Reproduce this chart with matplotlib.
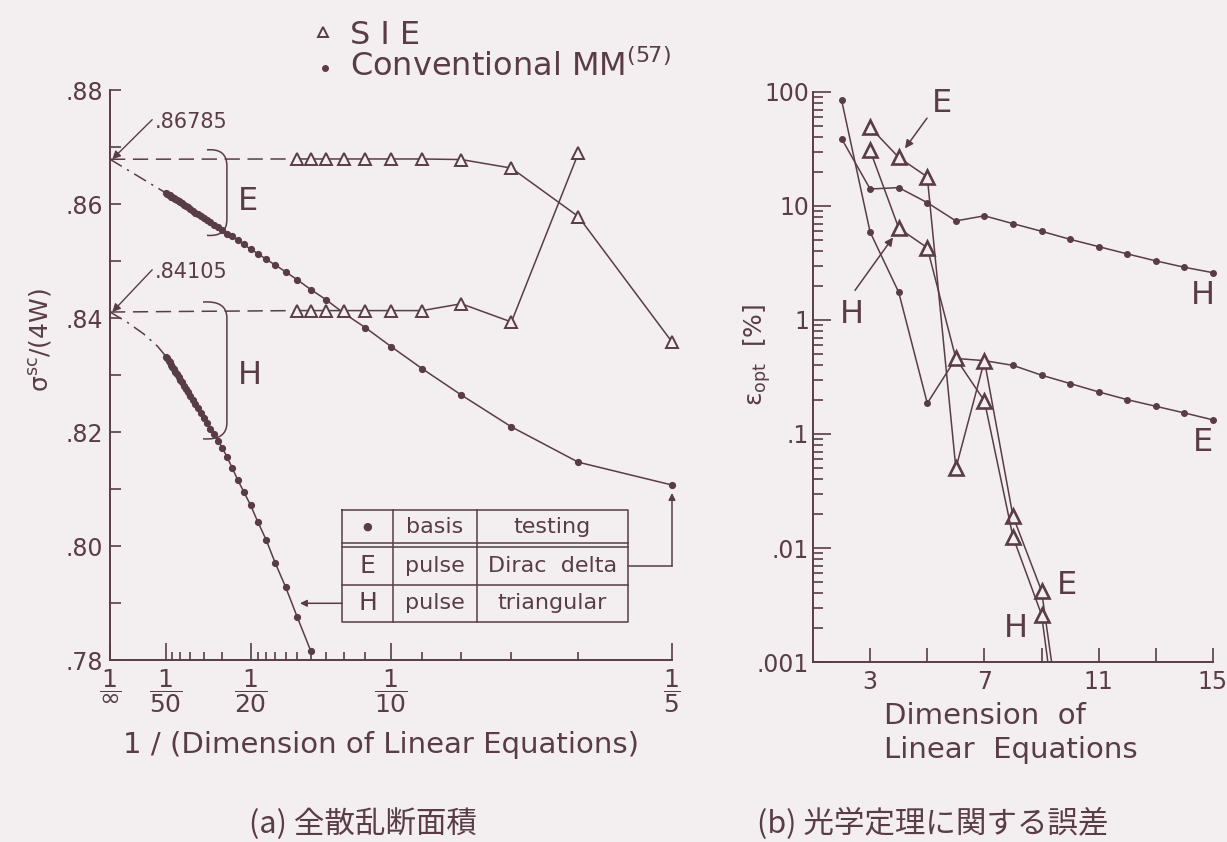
import matplotlib
matplotlib.use('Agg')
import matplotlib.pyplot as plt
from matplotlib.path import Path
from matplotlib.patches import PathPatch
from matplotlib.lines import Line2D
from matplotlib.ticker import LogLocator, NullFormatter

INK = '#5a3c47'
BG = '#f3eff0'
plt.rcParams['font.family'] = ['DejaVu Sans']
plt.rcParams['mathtext.fontset'] = 'dejavusans'
plt.rcParams['mathtext.default'] = 'regular'
for k in ('text.color', 'axes.edgecolor', 'xtick.color', 'ytick.color', 'axes.labelcolor'):
    plt.rcParams[k] = INK

# ---------------- (a) total scattering cross section ----------------
N_MM_E = list(range(5, 51))
sigma_MM_E = [0.8107, 0.8147, 0.8209, 0.8265, 0.8311, 0.8350, 0.8383, 0.8408, 0.8432, 0.8450,
              0.8467, 0.8481, 0.8493, 0.8503, 0.8513, 0.8521, 0.8529, 0.8536, 0.8543, 0.8548,
              0.8554, 0.8559, 0.8564, 0.8568, 0.8572, 0.8576, 0.8579, 0.8582, 0.8585, 0.8588,
              0.8591, 0.8594, 0.8596, 0.8598, 0.8601, 0.8603, 0.8605, 0.8607, 0.8608, 0.8610,
              0.8612, 0.8613, 0.8615, 0.8616, 0.8618, 0.8619]
N_MM_H = list(range(14, 51))
sigma_MM_H = [0.7816, 0.7875, 0.7928, 0.7970, 0.8011, 0.8042, 0.8072, 0.8095, 0.8116, 0.8137,
              0.8156, 0.8172, 0.8184, 0.8196, 0.8206, 0.8216, 0.8225, 0.8234, 0.8242, 0.8250,
              0.8257, 0.8263, 0.8270, 0.8276, 0.8281, 0.8287, 0.8292, 0.8297, 0.8302, 0.8306,
              0.8310, 0.8314, 0.8318, 0.8322, 0.8325, 0.8329, 0.8332]
N_SIE_E = [15, 14, 13, 12, 11, 10, 9, 8, 7, 6, 5]
sigma_SIE_E = [0.8679, 0.8679, 0.8679, 0.8679, 0.8679, 0.8679, 0.8679, 0.8678, 0.8663, 0.8578, 0.8358]
N_SIE_H = [15, 14, 13, 12, 11, 10, 9, 8, 7, 6]
sigma_SIE_H = [0.8413, 0.8413, 0.8413, 0.8413, 0.8413, 0.8413, 0.8413, 0.8425, 0.8393, 0.8689]
E_LIMIT = 0.86785
H_LIMIT = 0.84105
extrap_H_inv = [0.0, 0.006, 0.012, 0.017, 0.02]
extrap_H_sigma = [0.84105, 0.8393, 0.8372, 0.8350, 0.8332]
xtick_N = ['\\infty', '50', '20', '10', '5']
xtick_inv = [0.0, 1 / 50, 1 / 20, 1 / 10, 1 / 5]
minor_N = [45, 40, 35, 30, 25, 19, 18, 17, 16, 15, 14, 13, 12, 11, 9, 8, 7, 6]
ytick_vals = [0.78, 0.80, 0.82, 0.84, 0.86, 0.88]
ytick_labels = ['.78', '.80', '.82', '.84', '.86', '.88']

# ---------------- (b) optical theorem error ----------------
dim_MM = list(range(2, 16))
eps_MM_E = [85, 5.9, 1.75, 0.186, 0.46, 0.44, 0.40, 0.328, 0.277, 0.234, 0.20, 0.175, 0.153, 0.133]
eps_MM_H = [39, 14.1, 14.5, 10.7, 7.4, 8.2, 7.0, 6.0, 5.1, 4.4, 3.8, 3.3, 2.9, 2.6]
dim_SIE = list(range(3, 11))
eps_SIE_E = [49, 26.7, 18, 0.05, 0.44, 0.019, 0.0042, 0.00007]
eps_SIE_H = [30.7, 6.4, 4.3, 0.46, 0.195, 0.0125, 0.0026, 0.000034]
ytickR_vals = [0.001, 0.01, 0.1, 1, 10, 100]
ytickR_labels = ['.001', '.01', '.1', '1', '10', '100']

W, H = 1227, 842
fig = plt.figure(figsize=(W / 100, H / 100), dpi=100, facecolor=BG)
axL = fig.add_axes([110 / W, 1 - 660 / H, 562 / W, 570 / H])
axR = fig.add_axes([813 / W, 1 - 662 / H, 400 / W, 570 / H])
for ax in (axL, axR):
    ax.set_facecolor('none')
    for s in ('top', 'right'):
        ax.spines[s].set_visible(False)
    for s in ('left', 'bottom'):
        ax.spines[s].set_linewidth(1.4)

LW = 1.1
DASH = (0, (10, 5))
DASHDOT = (0, (9, 4, 1.5, 4))
tri = dict(marker='^', ms=8, mfc=BG, mec=INK, mew=1.4)

# ---- left panel
axL.plot([1 / n for n in N_MM_E], sigma_MM_E, '-', color=INK, lw=LW, marker='o', ms=4.2,
         mfc=INK, mec=INK, clip_on=False)
axL.plot([1 / n for n in N_MM_H], sigma_MM_H, '-', color=INK, lw=LW, marker='o', ms=4.2,
         mfc=INK, mec=INK, clip_on=False)
axL.plot([0, 1 / N_MM_E[-1]], [E_LIMIT, sigma_MM_E[-1]], color=INK, lw=LW, ls=DASHDOT)
axL.plot(extrap_H_inv, extrap_H_sigma, color=INK, lw=LW, ls=DASHDOT)
axL.plot([0, 1 / N_SIE_E[0]], [E_LIMIT, sigma_SIE_E[0]], color=INK, lw=LW, ls=DASH)
axL.plot([0, 1 / N_SIE_H[0]], [H_LIMIT, sigma_SIE_H[0]], color=INK, lw=LW, ls=DASH)
axL.plot([1 / n for n in N_SIE_E], sigma_SIE_E, '-', color=INK, lw=LW, clip_on=False, **tri)
axL.plot([1 / n for n in N_SIE_H], sigma_SIE_H, '-', color=INK, lw=LW, clip_on=False, **tri)

axL.set_xlim(0, 0.2)
axL.set_ylim(0.78, 0.88)
axL.set_xticks(xtick_inv)
axL.set_xticklabels([r'$\dfrac{1}{%s}$' % n for n in xtick_N], fontsize=18)
axL.set_xticks([1 / n for n in minor_N], minor=True)
axL.tick_params(axis='x', which='major', direction='in', length=12, width=1.2, pad=5)
axL.tick_params(axis='x', which='minor', direction='in', length=6, width=1.2)
axL.set_yticks(ytick_vals)
axL.set_yticklabels(ytick_labels, fontsize=17)
axL.set_yticks([0.79, 0.81, 0.83, 0.85, 0.87], minor=True)
axL.tick_params(axis='y', which='both', direction='in', length=8, width=1.2, pad=5)

# annotations of limits
for val, ytxt in ((E_LIMIT, 0.8744), (H_LIMIT, 0.8481)):
    axL.annotate('.%s' % str(val)[2:], xy=(0.0008, val), xytext=(0.016, ytxt),
                 fontsize=15, ha='left', va='center', color=INK,
                 arrowprops=dict(arrowstyle='-|>', color=INK, lw=1.0, shrinkA=0, shrinkB=0,
                                 relpos=(0, 0.75), mutation_scale=12))

# brackets
def bracket(x0, x1, ytop, ybot, dy):
    verts = [(x0, ytop), (x1, ytop + 0.0003), (x1, ytop - dy), (x1, ybot + dy),
             (x1, ybot - 0.0003), (x0, ybot)]
    codes = [Path.MOVETO, Path.CURVE3, Path.CURVE3, Path.LINETO, Path.CURVE3, Path.CURVE3]
    axL.add_patch(PathPatch(Path(verts, codes), fill=False, ec=INK, lw=1.1))

bracket(0.0345, 0.0416, 0.8695, 0.8545, 0.0028)
bracket(0.0331, 0.0416, 0.8428, 0.8188, 0.0028)
axL.text(0.0491, 0.8604, 'E', fontsize=23, ha='center', va='center')
axL.text(0.0498, 0.8300, 'H', fontsize=23, ha='center', va='center')

# table
tx0, tx1, tx2, tx3 = 0.0826, 0.1007, 0.1306, 0.1843
ty0, ty1a, ty1b, ty2, ty3 = 0.8063, 0.8005, 0.7998, 0.7932, 0.7867
tk = dict(color=INK, lw=1.1, clip_on=False)
axL.plot([tx0, tx3, tx3, tx0, tx0], [ty0, ty0, ty3, ty3, ty0], **tk)
for yy in (ty1a, ty1b, ty2):
    axL.plot([tx0, tx3], [yy, yy], **tk)
for xx in (tx1, tx2):
    axL.plot([xx, xx], [ty0, ty3], **tk)
rows = [('\u25cf', 'basis', 'testing'), ('E', 'pulse', 'Dirac  delta'), ('H', 'pulse', 'triangular')]
rowy = [(ty0 + ty1a) / 2, (ty1b + ty2) / 2, (ty2 + ty3) / 2]
colx = [(tx0 + tx1) / 2, (tx1 + tx2) / 2, (tx2 + tx3) / 2]
for r, yy in zip(rows, rowy):
    for c, xx in zip(r, colx):
        fs = 18 if c in ('E', 'H') else (8 if c == '\u25cf' else 16)
        axL.text(xx, yy, c, fontsize=fs, ha='center', va='center')
axL.annotate('', xy=(0.0676, rowy[2]), xytext=(tx0, rowy[2]),
             arrowprops=dict(arrowstyle='-|>', color=INK, lw=1.1, shrinkA=0, shrinkB=0,
                             mutation_scale=10))
axL.plot([tx3, 0.2], [rowy[1], rowy[1]], **tk)
axL.annotate('', xy=(0.2, 0.8093), xytext=(0.2, rowy[1]),
             arrowprops=dict(arrowstyle='-|>', color=INK, lw=1.1, shrinkA=0, shrinkB=0,
                             mutation_scale=10), annotation_clip=False)

# ---- right panel
axR.set_yscale('log')
axR.plot(dim_MM, eps_MM_E, '-', color=INK, lw=LW, marker='o', ms=4, mfc=INK, mec=INK, clip_on=False)
axR.plot(dim_MM, eps_MM_H, '-', color=INK, lw=LW, marker='o', ms=4, mfc=INK, mec=INK, clip_on=False)
triR = dict(marker='^', ms=10, mfc=BG, mec=INK, mew=1.9)
axR.plot(dim_SIE, eps_SIE_E, '-', color=INK, lw=LW, markevery=list(range(len(dim_SIE) - 1)), **triR)
axR.plot(dim_SIE, eps_SIE_H, '-', color=INK, lw=LW, markevery=list(range(len(dim_SIE) - 1)), **triR)
axR.set_xlim(1, 15)
axR.set_ylim(0.001, 100)
axR.set_yticks(ytickR_vals)
axR.set_yticklabels(ytickR_labels, fontsize=17)
axR.yaxis.set_minor_locator(LogLocator(base=10, subs=range(2, 10)))
axR.yaxis.set_minor_formatter(NullFormatter())
axR.tick_params(axis='y', which='major', direction='in', length=13, width=1.2, pad=3)
axR.tick_params(axis='y', which='minor', direction='in', length=7, width=1.2)
axR.set_xticks([3, 7, 11, 15])
axR.set_xticklabels(['3', '7', '11', '15'], fontsize=17)
axR.set_xticks([5, 9, 13], minor=True)
axR.tick_params(axis='x', which='both', direction='in', length=10, width=1.2, pad=6)

axR.annotate('', xy=(4.22, 32), xytext=(4.99, 59),
             arrowprops=dict(arrowstyle='-|>', color=INK, lw=1.1, shrinkA=0, shrinkB=0, mutation_scale=12))
axR.annotate('', xy=(3.8, 5.3), xytext=(2.47, 1.82),
             arrowprops=dict(arrowstyle='-|>', color=INK, lw=1.1, shrinkA=0, shrinkB=0, mutation_scale=12))
for x, y, s in ((5.52, 80, 'E'), (2.37, 1.11, 'H'), (14.65, 1.64, 'H'), (14.65, 0.0836, 'E'),
                (9.89, 0.0047, 'E'), (8.1, 0.00197, 'H')):
    axR.text(x, y, s, fontsize=23, ha='center', va='center')

# axis labels
fig.text(40 / W, 1 - 340 / H, r'$\sigma^{sc}$/(4W)', rotation=90, fontsize=18, ha='center', va='center')
fig.text(757 / W, 1 - 355 / H, r'$\varepsilon_{opt}$  [%]', rotation=90, fontsize=18, ha='center', va='center')
fig.text(381 / W, 1 - 745 / H, '1 / (Dimension of Linear Equations)', fontsize=21, ha='center', va='center')
fig.text(884 / W, 1 - 733 / H, 'Dimension  of\nLinear  Equations', fontsize=21, ha='left', va='center',
         linespacing=1.3)

# legend at top
fig.add_artist(Line2D([323 / W], [1 - 32 / H], marker='^', ms=7, mfc=BG, mec=INK, mew=1.4,
                      transform=fig.transFigure))
fig.add_artist(Line2D([325 / W], [1 - 68 / H], marker='o', ms=4, mfc=INK, mec=INK,
                      transform=fig.transFigure))
fig.text(350 / W, 1 - 35 / H, 'S I E', fontsize=23, ha='left', va='center')
fig.text(350 / W, 1 - 66 / H, r'Conventional MM$^{(57)}$', fontsize=23, ha='left', va='center')

# captions
cjk = ['Noto Sans CJK JP', 'DejaVu Sans']
fig.text(363 / W, 1 - 824 / H, '(a) 全散乱断面積', fontsize=22, ha='center', va='center', family=cjk)
fig.text(933 / W, 1 - 824 / H, '(b) 光学定理に関する誤差', fontsize=22, ha='center', va='center', family=cjk)

fig.savefig('out.png', dpi=100, facecolor=BG)
